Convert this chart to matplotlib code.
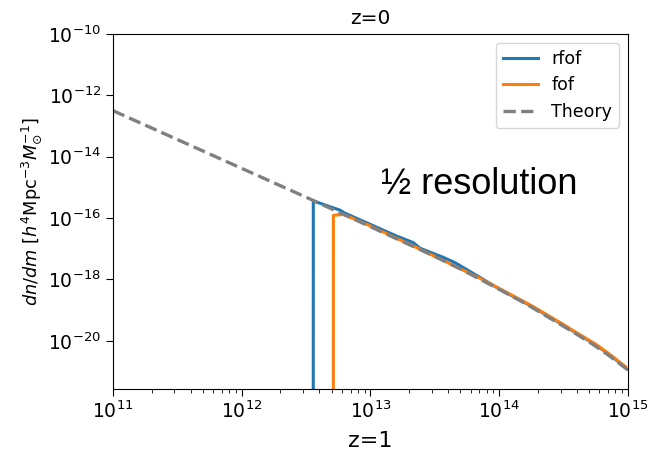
import numpy as np
import matplotlib
matplotlib.use("Agg")
import matplotlib.pyplot as plt
from matplotlib.ticker import LogLocator, NullLocator

# values, as log10(m) and log10(dn/dm)
theory_logm = [11.0, 11.5, 12.0, 12.5, 13.0, 13.5, 13.7, 14.0, 14.21, 14.47, 14.6, 14.73, 14.85, 15.0]
theory_logn = [-12.50, -13.44, -14.38, -15.32, -16.28, -17.25, -17.66, -18.32, -18.80, -19.45,
               -19.78, -20.12, -20.47, -20.95]

rfof_logm = [12.555, 12.556, 12.763, 12.802, 12.97, 13.2, 13.333, 13.384, 13.566, 13.656, 13.85,
             14.0, 14.25, 14.5, 14.6, 14.75, 14.85, 14.98]
rfof_logn = [-30.0, -15.44, -15.74, -15.84, -16.15, -16.58, -16.80, -16.98, -17.28, -17.45, -17.93,
             -18.31, -18.87, -19.49, -19.75, -20.13, -20.43, -20.86]

fof_logm = [12.711, 12.712, 12.789, 12.97, 13.333, 13.6, 13.85,
            14.0, 14.25, 14.5, 14.6, 14.75, 14.85, 14.98]
fof_logn = [-30.0, -15.91, -15.88, -16.20, -16.91, -17.45, -17.96,
            -18.29, -18.85, -19.47, -19.73, -20.11, -20.41, -20.84]

fig = plt.figure(figsize=(6.48, 4.53), dpi=100)
ax = fig.add_axes([0.1744, 0.1413, 0.7946, 0.7837])

ax.plot(10.0**np.array(rfof_logm), 10.0**np.array(rfof_logn), color="#1f77b4", lw=2.2, label="rfof")
ax.plot(10.0**np.array(fof_logm), 10.0**np.array(fof_logn), color="#ff7f0e", lw=2.2, label="fof")
ax.plot(10.0**np.array(theory_logm), 10.0**np.array(theory_logn), color="gray", lw=2.4,
        ls=(0, (3.7, 1.6)), label="Theory")

ax.set_xscale("log")
ax.set_yscale("log")
ax.set_xlim(1e11, 1e15)
ax.set_ylim(2.7e-22, 1e-10)
ax.set_yticks([1e-20, 1e-18, 1e-16, 1e-14, 1e-12, 1e-10])
ax.yaxis.set_minor_locator(NullLocator())
ax.xaxis.set_minor_locator(LogLocator(base=10, subs=np.arange(2, 10)))
ax.tick_params(labelsize=13.5, length=5)
ax.tick_params(which="minor", length=3)

ax.set_ylabel(r"$dn/dm\ [h^4 \mathrm{Mpc}^{-3} M_{\odot}^{-1}]$", fontsize=12.8, labelpad=3)
ax.set_title("z=0", fontsize=14.5, pad=7)
ax.set_xlabel("z=1", fontsize=16, labelpad=6)

ax.legend(loc="upper right", fontsize=12.5, handlelength=2.0)
ax.text(0.52, 0.55, "½ resolution", transform=ax.transAxes, fontsize=26,
        family="Liberation Sans")

fig.savefig("out.png", dpi=100)
